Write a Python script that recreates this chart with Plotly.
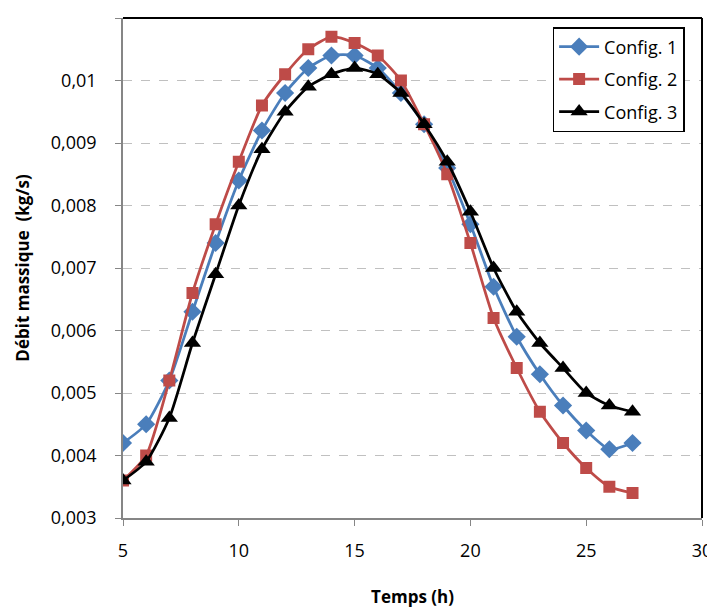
import plotly.graph_objects as go

hours = list(range(5, 28))
config1 = [0.0042, 0.0045, 0.0052, 0.0063, 0.0074, 0.0084, 0.0092, 0.0098, 0.0102, 0.0104, 0.0104, 0.0102,
           0.0098, 0.0093, 0.0086, 0.0077, 0.0067, 0.0059, 0.0053, 0.0048, 0.0044, 0.0041, 0.0042]
config2 = [0.0036, 0.0040, 0.0052, 0.0066, 0.0077, 0.0087, 0.0096, 0.0101, 0.0105, 0.0107, 0.0106, 0.0104,
           0.0100, 0.0093, 0.0085, 0.0074, 0.0062, 0.0054, 0.0047, 0.0042, 0.0038, 0.0035, 0.0034]
config3 = [0.0036, 0.0039, 0.0046, 0.0058, 0.0069, 0.0080, 0.0089, 0.0095, 0.0099, 0.0101, 0.0102, 0.0101,
           0.0098, 0.0093, 0.0087, 0.0079, 0.0070, 0.0063, 0.0058, 0.0054, 0.0050, 0.0048, 0.0047]
series_names = ["Config. 1", "Config. 2", "Config. 3"]

y_tick_vals = [0.003, 0.004, 0.005, 0.006, 0.007, 0.008, 0.009, 0.010, 0.011]
y_tick_labels = ["0,003", "0,004", "0,005", "0,006", "0,007", "0,008", "0,009", "0,01", "0,011"]
x_tick_vals = [5, 10, 15, 20, 25, 30]

FONT = "'Open Sans', sans-serif"

fig = go.Figure()
styles = [
    ("#4a7ebb", "diamond", 14),
    ("#be4b48", "square", 12),
    ("#000000", "triangle-up", 15),
]
for name, vals, (col, sym, sz) in zip(series_names, [config1, config2, config3], styles):
    fig.add_trace(go.Scatter(
        x=hours, y=vals, name=name, mode="lines+markers", legendgroup=name,
        line=dict(color=col, width=2.75, shape="spline", smoothing=0.6),
        marker=dict(symbol=sym, size=sz, color=col),
    ))

# page body has an 8px default margin, so figure is sized to fit the 715x612 window
fig.update_layout(
    width=707, height=604,
    margin=dict(l=115, r=13, t=10, b=94),
    paper_bgcolor="white", plot_bgcolor="white",
    font=dict(family=FONT, size=18, color="black"),
    showlegend=True,
    legend=dict(
        x=0.742, y=0.982, xanchor="left", yanchor="top",
        bordercolor="black", borderwidth=1.5, bgcolor="white",
        font=dict(size=18, family=FONT), itemwidth=40,
        tracegroupgap=6,
    ),
    xaxis=dict(
        range=[5, 30], tickvals=x_tick_vals, showgrid=False, zeroline=False,
        showline=True, linecolor="#868686", linewidth=1.5, automargin=False,
        ticks="outside", ticklen=6, tickcolor="#868686", ticklabelstandoff=10,
        title=dict(text="<b>Temps (h)</b>", font=dict(size=17), standoff=30),
        tickfont=dict(size=18),
    ),
    yaxis=dict(
        range=[0.003, 0.011], tickvals=y_tick_vals, ticktext=y_tick_labels,
        showgrid=True, gridcolor="#c0c0c0", griddash="dash", gridwidth=1.2,
        zeroline=False, showline=True, linecolor="#868686", linewidth=1.5, automargin=False,
        ticks="outside", ticklen=6, tickcolor="#868686", ticklabelstandoff=15,
        title=dict(text="<b>Débit massique  (kg/s)</b>", font=dict(size=17), standoff=17),
        tickfont=dict(size=18),
    ),
    shapes=[
        dict(type="line", xref="paper", yref="paper", x0=0, x1=1, y0=1, y1=1,
             line=dict(color="black", width=2)),
        dict(type="line", xref="paper", yref="paper", x0=1, x1=1, y0=0, y1=1,
             line=dict(color="black", width=2)),
    ],
)

fig.write_html("out.html")
